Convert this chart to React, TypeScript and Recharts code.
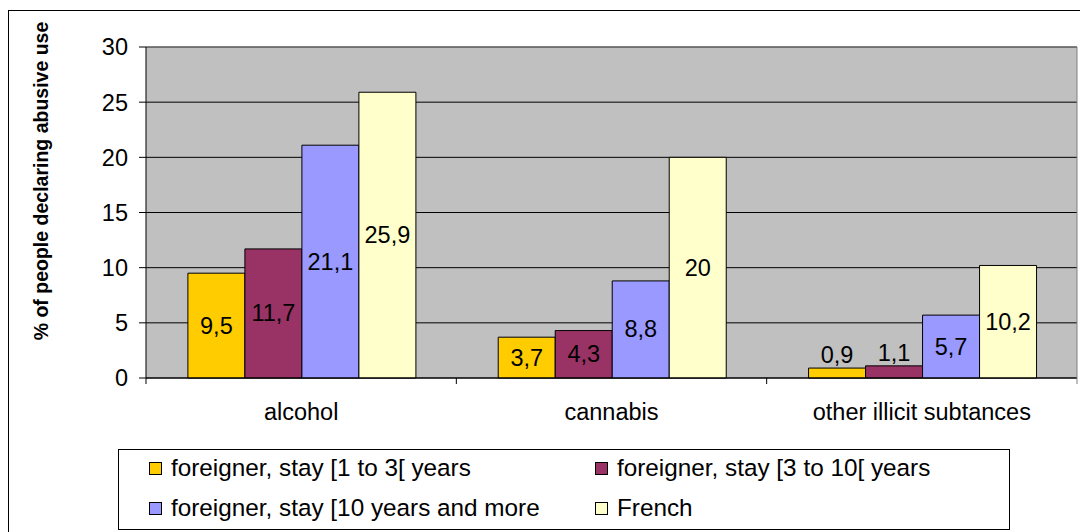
import React from 'react';
import {
  BarChart,
  Bar,
  XAxis,
  YAxis,
  CartesianGrid,
  Legend,
  LabelList,
  ReferenceLine
} from 'recharts';

const categories = ['alcohol', 'cannabis', 'other illicit subtances'];
const stay1to3 = [9.5, 3.7, 0.9];
const stay3to10 = [11.7, 4.3, 1.1];
const stay10plus = [21.1, 8.8, 5.7];
const french = [25.9, 20, 10.2];
const yTicks = [0, 5, 10, 15, 20, 25, 30];

const series = [
  { key: 'a', name: 'foreigner, stay [1 to 3[ years', color: '#FFCC00', values: stay1to3 },
  { key: 'b', name: 'foreigner, stay [3 to 10[ years', color: '#993366', values: stay3to10 },
  { key: 'c', name: 'foreigner, stay [10 years and more', color: '#9999FF', values: stay10plus },
  { key: 'd', name: 'French', color: '#FFFFCC', values: french }
];

const data = categories.map((cat, i) => {
  const row: any = { cat };
  series.forEach(s => { row[s.key] = s.values[i]; });
  return row;
});

const FONT = 'Arial, "Liberation Sans", sans-serif';
const FS = 23.5;

const BarValue = (props: any) => {
  const { x, y, width, height, value } = props;
  const text = String(value).replace('.', ',');
  const cy = height < 28 ? y - 13 : y + height / 2;
  return (
    <text
      x={x + width / 2}
      y={cy}
      textAnchor="middle"
      dominantBaseline="central"
      fontFamily={FONT}
      fontSize={FS}
      fill="#000"
    >
      {text}
    </text>
  );
};

const CatTick = (props: any) => {
  const { x, payload, index, width } = props;
  const band = (width || 931) / categories.length;
  const top = 378;
  return (
    <g>
      <line x1={x - band / 2} x2={x - band / 2} y1={top} y2={top + 6} stroke="#000" />
      {index === categories.length - 1 && (
        <line x1={x + band / 2} x2={x + band / 2} y1={top} y2={top + 6} stroke="#808080" />
      )}
      <text x={x} y={420} textAnchor="middle" fontFamily={FONT} fontSize={FS} fill="#000">
        {payload.value}
      </text>
    </g>
  );
};

const LegendBox = () => (
  <div
    style={{
      position: 'relative',
      width: 892,
      height: 81,
      border: '1px solid #000',
      boxSizing: 'border-box',
      background: '#fff',
      fontFamily: FONT,
      fontSize: 24.3
    }}
  >
    {series.map((s, i) => {
      const col = i % 2;
      const row = Math.floor(i / 2);
      return (
        <div
          key={s.key}
          style={{
            position: 'absolute',
            left: col === 0 ? 30 : 476,
            top: (row === 0 ? 18 : 58) - 15,
            height: 30,
            display: 'flex',
            alignItems: 'center',
            whiteSpace: 'nowrap',
            color: '#000'
          }}
        >
          <span
            style={{
              display: 'inline-block',
              width: 11,
              height: 11,
              background: s.color,
              border: '1px solid #000',
              marginRight: 9
            }}
          />
          {s.name}
        </div>
      );
    })}
  </div>
);

export default function App() {
  return (
    <div
      style={{
        position: 'absolute',
        left: 0,
        top: 0,
        width: 1080,
        height: 532,
        background: '#fff',
        overflow: 'hidden'
      }}
    >
      <div
        style={{
          position: 'absolute',
          left: 8,
          top: 10,
          width: 1100,
          height: 600,
          border: '1px solid #000'
        }}
      />
      <div style={{ position: 'absolute', left: 0, top: 0 }}>
        <BarChart
          width={1080}
          height={532}
          data={data}
          margin={{ top: 47, right: 0, bottom: 2, left: 0 }}
          barCategoryGap="13.5%"
          barGap={0}
        >
          <CartesianGrid vertical={false} stroke="#000" fill="#C0C0C0" fillOpacity={1} />
          <XAxis
            dataKey="cat"
            interval={0}
            height={71}
            tickLine={false}
            axisLine={{ stroke: '#000' }}
            tick={<CatTick />}
          />
          <YAxis
            domain={[0, 30]}
            ticks={yTicks}
            width={146}
            tickSize={7}
            tickMargin={11}
            axisLine={{ stroke: '#000' }}
            tickLine={{ stroke: '#000' }}
            tick={{ fill: '#000', fontSize: FS, fontFamily: FONT }}
            label={{
              content: () => (
                <text
                  x={41}
                  y={181}
                  transform="rotate(-90 41 181)"
                  textAnchor="middle"
                  dominantBaseline="central"
                  fontFamily={FONT}
                  fontWeight="bold"
                  fontSize={19.5}
                  fill="#000"
                >
                  % of people declaring abusive use
                </text>
              )
            }}
          />
          <YAxis
            yAxisId="right"
            orientation="right"
            domain={[0, 30]}
            width={3}
            tick={false}
            tickLine={false}
            axisLine={{ stroke: '#808080' }}
          />
          <ReferenceLine y={30} stroke="#808080" />
          <Legend
            verticalAlign="bottom"
            wrapperStyle={{ left: 118, width: 892 }}
            content={<LegendBox />}
          />
          {series.map(s => (
            <Bar
              key={s.key}
              dataKey={s.key}
              name={s.name}
              fill={s.color}
              stroke="#000"
              strokeWidth={1}
              isAnimationActive={false}
            >
              <LabelList dataKey={s.key} content={<BarValue />} />
            </Bar>
          ))}
        </BarChart>
      </div>
    </div>
  );
}
